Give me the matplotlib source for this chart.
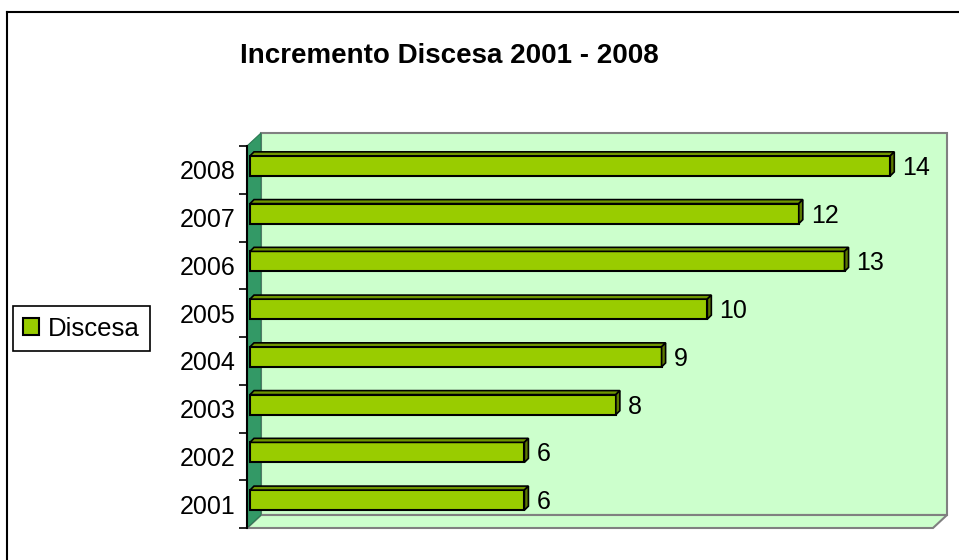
import matplotlib
matplotlib.use('Agg')
import matplotlib.pyplot as plt
import matplotlib.transforms as mtransforms
from matplotlib.patches import Polygon, Rectangle
from matplotlib.lines import Line2D

plt.rcParams['font.family'] = ['Liberation Sans', 'DejaVu Sans']

anni = ['2001', '2002', '2003', '2004', '2005', '2006', '2007', '2008']
discesa = [6, 6, 8, 9, 10, 13, 12, 14]
titolo = 'Incremento Discesa 2001 - 2008'
serie = 'Discesa'

W, H = 959, 560
fig = plt.figure(figsize=(W / 100, H / 100), dpi=100)
# front plane of the 3D box
ax = fig.add_axes([247 / W, 32 / H, 686 / W, 382 / H])
ax.set_xlim(0, 15)
ax.set_ylim(-0.5, 7.5)
ax.patch.set_visible(False)

# depth of the box in axes fraction
dx, dy = 14 / 686, 13 / 382
grigio = '#808080'
sfondo = '#CCFFCC'

back = Rectangle((dx, dy), 1, 1, transform=ax.transAxes, facecolor=sfondo,
                 edgecolor=grigio, lw=1.5, clip_on=False, zorder=0.2)
floor = Polygon([(0, 0), (1, 0), (1 + dx, dy), (dx, dy)], closed=True,
                transform=ax.transAxes, facecolor=sfondo, edgecolor=grigio,
                lw=1.5, clip_on=False, zorder=0.3)
wall = Polygon([(0, 0), (0, 1), (dx, 1 + dy), (dx, dy)], closed=True,
               transform=ax.transAxes, facecolor='#339966', edgecolor='#2a7a52',
               lw=0.8, clip_on=False, zorder=0.4)
for p in (back, floor, wall):
    ax.add_patch(p)

# bars sit slightly inside the box
trans = mtransforms.offset_copy(ax.transData, fig=fig, x=3, y=4, units='dots')
h = 0.42
y = list(range(len(anni)))
bars = ax.barh(y, discesa, height=h, color='#99CC00', edgecolor='black',
               linewidth=1.5, transform=trans, zorder=3, label=serie)

# 3D faces of the bars (4 px depth)
ddx, ddy = 4 * 15 / 686, 4 / 47.75
for yi, v in zip(y, discesa):
    top = Polygon([(0, yi + h / 2), (v, yi + h / 2), (v + ddx, yi + h / 2 + ddy),
                   (ddx, yi + h / 2 + ddy)], closed=True, transform=trans,
                  facecolor='#6F9600', edgecolor='black', lw=1.2, zorder=3,
                  clip_on=False)
    end = Polygon([(v, yi - h / 2), (v, yi + h / 2), (v + ddx, yi + h / 2 + ddy),
                   (v + ddx, yi - h / 2 + ddy)], closed=True, transform=trans,
                  facecolor='#5C7A00', edgecolor='black', lw=1.2, zorder=3,
                  clip_on=False)
    ax.add_patch(top)
    ax.add_patch(end)
    ax.annotate(str(v), (v, yi), xycoords=trans, xytext=(12, -2),
                textcoords='offset pixels', va='center', ha='left', fontsize=18,
                annotation_clip=False)

# axes: only the left edge with ticks between categories
for s in ('top', 'right', 'bottom'):
    ax.spines[s].set_visible(False)
ax.spines['left'].set_linewidth(1.5)
ax.set_xticks([])
ax.set_yticks(y)
ax.set_yticklabels(anni, fontsize=18)
ax.set_yticks([i - 0.5 for i in range(len(anni) + 1)], minor=True)
ax.tick_params(axis='y', which='major', length=0, pad=8)
ax.tick_params(axis='y', which='minor', length=5.8, width=1.2, color='black')

fig.text(449 / W, 1 - 56 / H, titolo, ha='center', va='center', fontsize=20,
         fontweight='bold')

leg = fig.legend(handles=[bars], labels=[serie], loc='center left',
                 bbox_to_anchor=(13 / W, 1 - 328.5 / H), fontsize=18.5,
                 fancybox=False, framealpha=1, edgecolor='black',
                 borderaxespad=0, borderpad=0.4, handlelength=0.6,
                 handleheight=0.6, handletextpad=0.35)
leg.get_frame().set_linewidth(1.2)

# chart border (left and top edge visible)
fig.add_artist(Line2D([7 / W, 7 / W], [0, 1 - 12 / H], color='black', lw=1.5,
                      transform=fig.transFigure))
fig.add_artist(Line2D([7 / W, 1], [1 - 12 / H, 1 - 12 / H], color='black',
                      lw=1.5, transform=fig.transFigure))

fig.savefig('out.png', dpi=100)
